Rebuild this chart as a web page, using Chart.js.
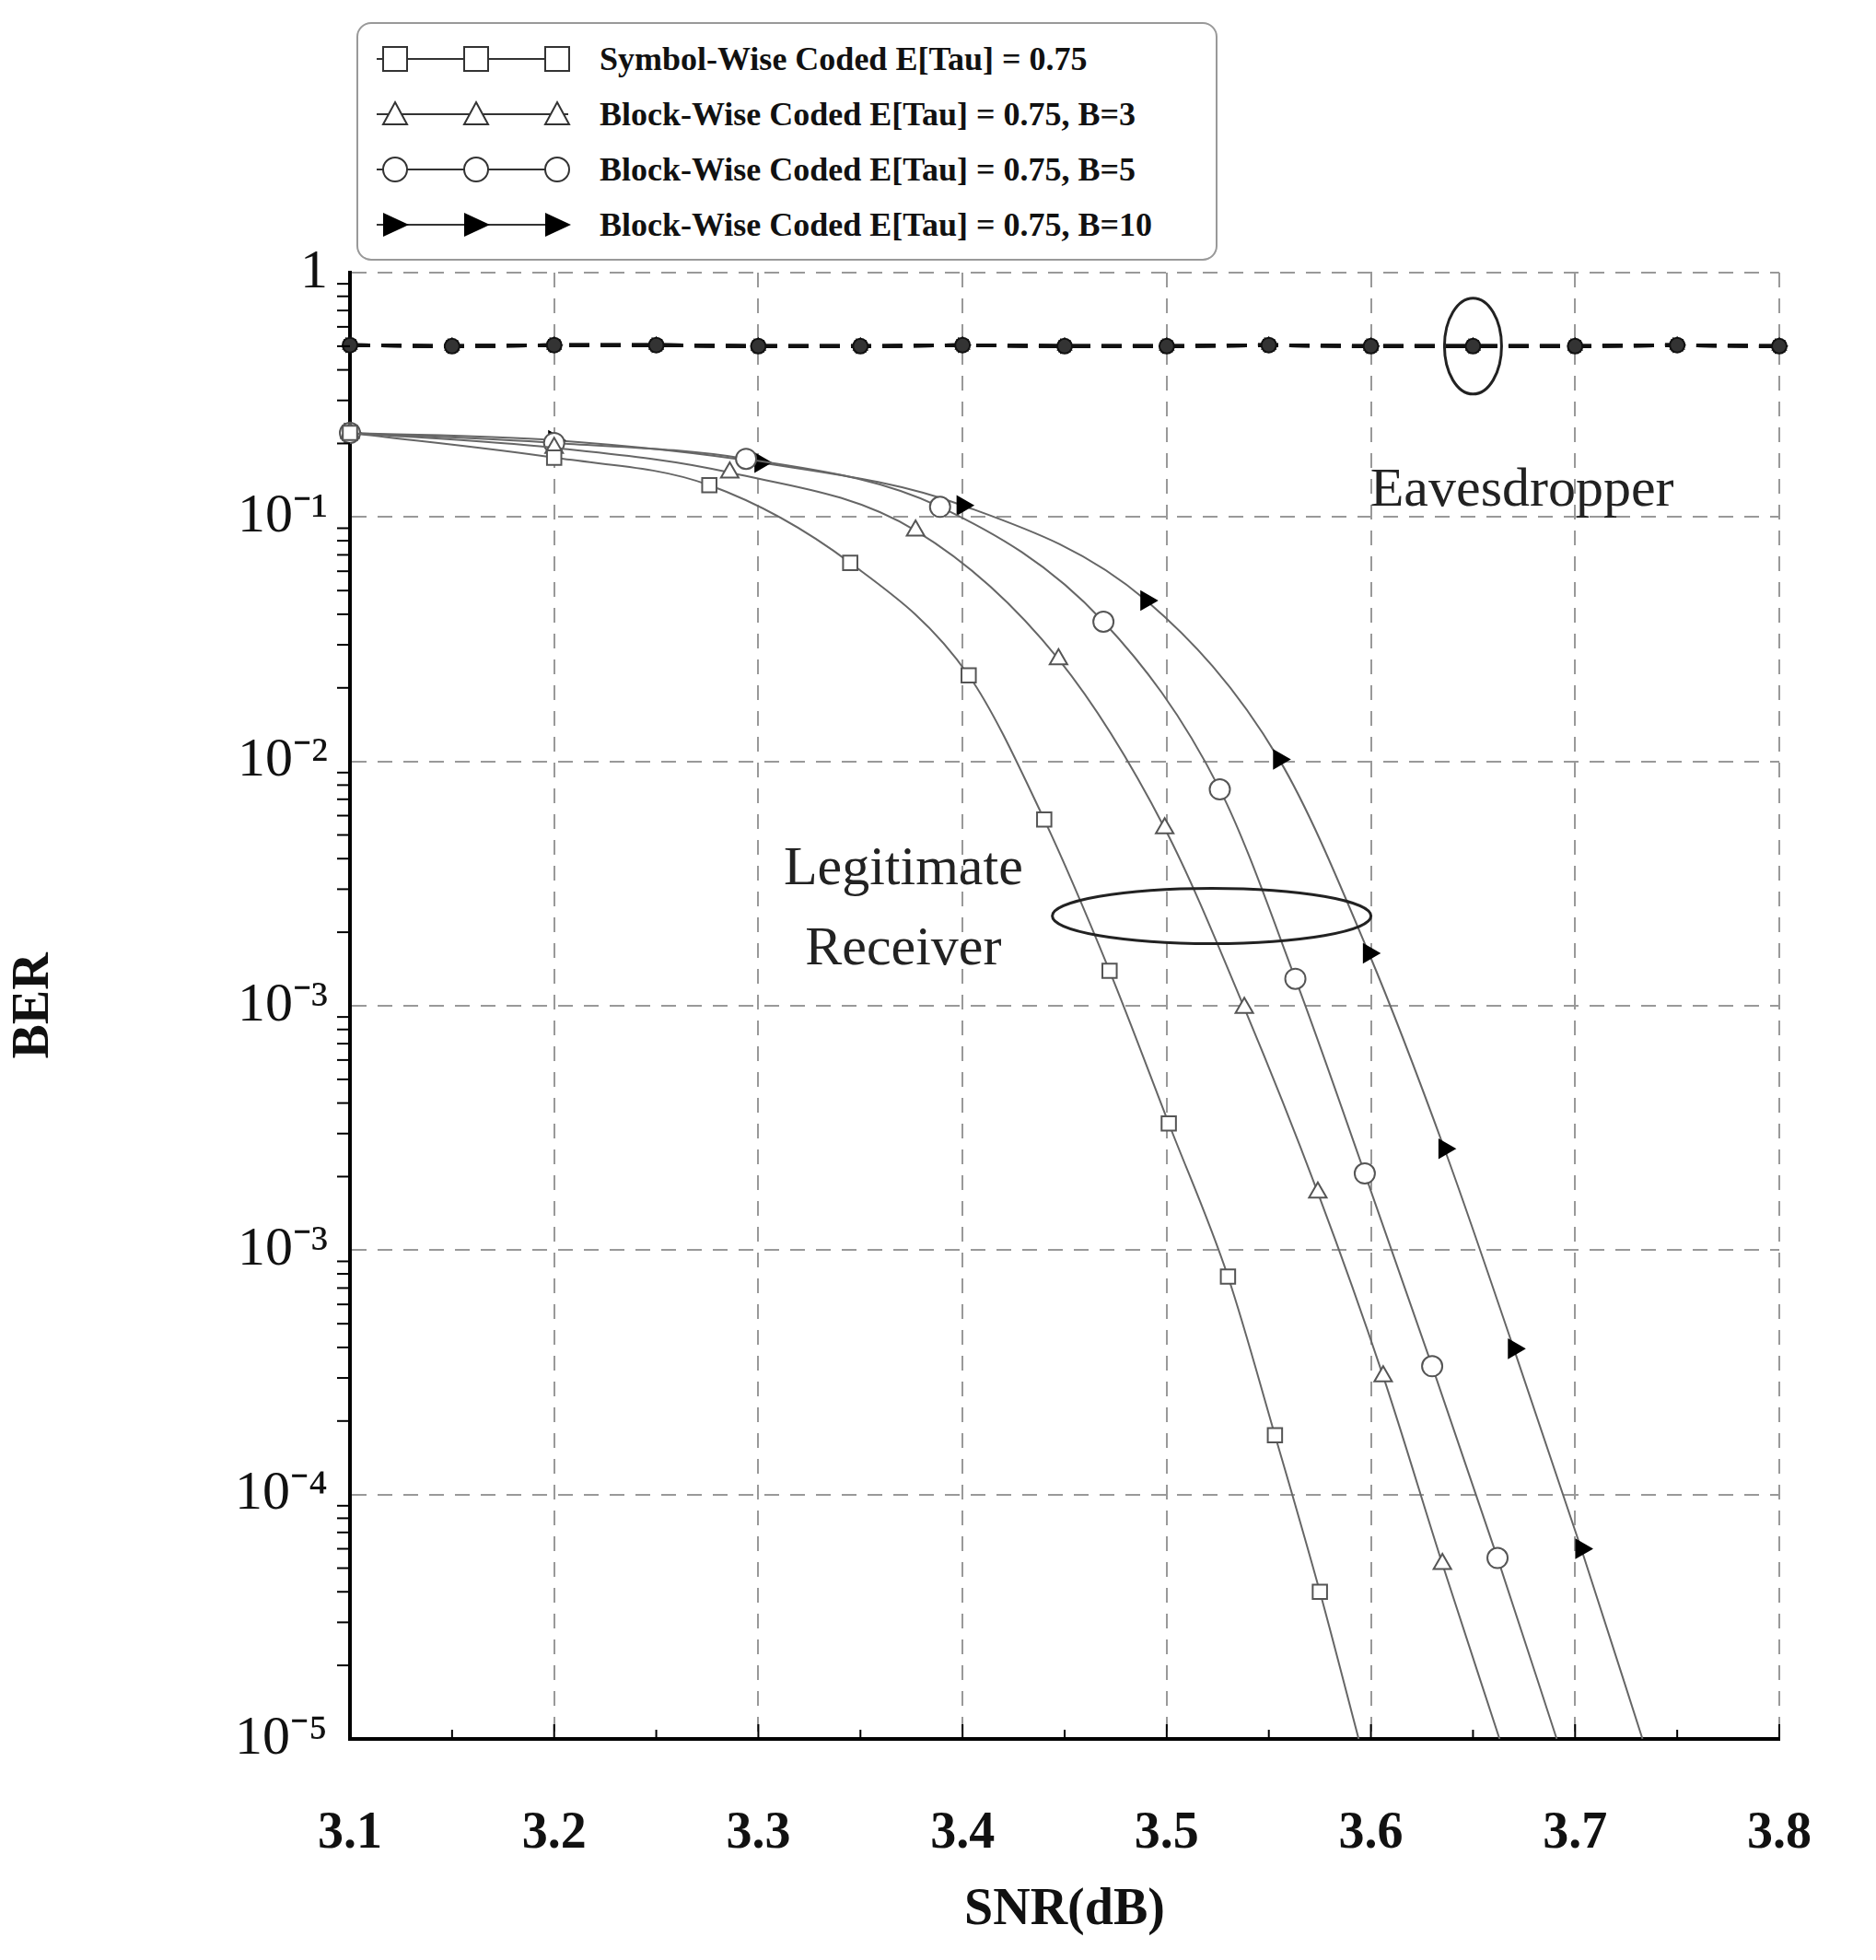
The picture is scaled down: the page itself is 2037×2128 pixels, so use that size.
<!DOCTYPE html>
<html>
<head>
<meta charset="utf-8">
<script src="https://cdn.jsdelivr.net/npm/chart.js@4.4.1/dist/chart.umd.min.js"></script>
<style>
  html, body { margin: 0; padding: 0; background: #fff; }
  #wrap { position: relative; width: 2037px; height: 2128px; }
  #legend {
    position: absolute; left: 387px; top: 24px; width: 935px; height: 259px;
    border: 2px solid #999; border-radius: 16px; background: #fff; box-sizing: border-box;
    font-family: "Liberation Serif", serif; font-weight: bold; font-size: 36px; color: #111;
  }
  .row { position: absolute; left: 0; height: 60px; display: flex; align-items: center; }
  .row svg { margin-left: 16px; }
  .row span { margin-left: 30px; white-space: nowrap; }
</style>
</head>
<body>
<div id="wrap">
  <canvas id="c" width="2037" height="2128"></canvas>
  <div id="legend"></div>
</div>
<script>
'use strict';

const xLabels = ['3.1', '3.2', '3.3', '3.4', '3.5', '3.6', '3.7', '3.8'];
const yTickValues = [1e-6, 1e-5, 1e-4, 1e-3, 1e-2, 1e-1, 1];
const yTickLabels = ['10⁻⁵', '10⁻⁴', '10⁻³', '10⁻³', '10⁻²', '10⁻¹', '1'];

const legendNames = [
  'Symbol-Wise Coded E[Tau] = 0.75',
  'Block-Wise Coded E[Tau] = 0.75, B=3',
  'Block-Wise Coded E[Tau] = 0.75, B=5',
  'Block-Wise Coded E[Tau] = 0.75, B=10'
];

// legitimate receiver curves (last point = where curve leaves the plot, no marker)
const symX = [3.1, 3.2, 3.276, 3.345, 3.403, 3.440, 3.472, 3.501, 3.530, 3.553, 3.575, 3.594];
const symY = [0.221, 0.175, 0.135, 0.0649, 0.0225, 0.00578, 0.00139, 3.3e-4, 7.8e-5, 1.75e-5, 4.0e-6, 1e-6];
const b3X = [3.1, 3.2, 3.286, 3.377, 3.447, 3.499, 3.538, 3.574, 3.606, 3.635, 3.663];
const b3Y = [0.221, 0.192, 0.152, 0.088, 0.0262, 0.00533, 9.8e-4, 1.72e-4, 3.05e-5, 5.2e-6, 1e-6];
const b5X = [3.1, 3.2, 3.294, 3.389, 3.469, 3.526, 3.563, 3.597, 3.630, 3.662, 3.691];
const b5Y = [0.221, 0.201, 0.173, 0.110, 0.0373, 0.00768, 0.00129, 2.06e-4, 3.35e-5, 5.5e-6, 1e-6];
const b10X = [3.1, 3.2, 3.301, 3.400, 3.490, 3.555, 3.599, 3.636, 3.670, 3.703, 3.733];
const b10Y = [0.221, 0.206, 0.167, 0.1116, 0.0455, 0.0102, 0.00164, 2.6e-4, 3.95e-5, 6e-6, 1e-6];

// eavesdropper
const eveX = [3.1, 3.15, 3.2, 3.25, 3.3, 3.35, 3.4, 3.45, 3.5, 3.55, 3.6, 3.65, 3.7, 3.75, 3.8];
const eveY = [0.505, 0.5, 0.505, 0.505, 0.5, 0.5, 0.505, 0.5, 0.5, 0.505, 0.5, 0.5, 0.5, 0.505, 0.5];

const styles = [
  { pointStyle: 'rect', rotation: 0, fill: '#fff', stroke: '#555', r: 11 },
  { pointStyle: 'triangle', rotation: 0, fill: '#fff', stroke: '#555', r: 11 },
  { pointStyle: 'circle', rotation: 0, fill: '#fff', stroke: '#555', r: 11 },
  { pointStyle: 'triangle', rotation: 90, fill: '#000', stroke: '#000', r: 11 }
];

const zip = (xs, ys) => xs.map((x, i) => ({ x, y: ys[i] }));

function legitSet(xs, ys, s) {
  const n = xs.length;
  return {
    data: zip(xs, ys),
    borderColor: '#666', borderWidth: 2, cubicInterpolationMode: 'monotone',
    pointStyle: s.pointStyle, rotation: s.rotation,
    pointRadius: xs.map((_, i) => (i === n - 1 ? 0 : s.r)),
    pointBackgroundColor: s.fill, pointBorderColor: s.stroke, pointBorderWidth: 2
  };
}
function eveSet(s) {
  return {
    data: zip(eveX, eveY),
    borderColor: '#111', borderWidth: 4, borderDash: [22, 12],
    pointStyle: s.pointStyle, rotation: s.rotation, pointRadius: 8,
    pointBackgroundColor: '#333', pointBorderColor: '#111', pointBorderWidth: 2
  };
}

const datasets = [
  legitSet(symX, symY, styles[0]),
  legitSet(b3X, b3Y, styles[1]),
  legitSet(b5X, b5Y, styles[2]),
  legitSet(b10X, b10Y, styles[3]),
  ...[styles[2], styles[1], styles[3], styles[0]].map(eveSet)
];

const annotations = {
  id: 'annotations',
  afterDatasetsDraw(chart) {
    const { ctx, scales: { x, y } } = chart;
    ctx.save();
    ctx.setLineDash([]);
    // minor ticks (inward)
    ctx.strokeStyle = '#000';
    ctx.lineWidth = 2;
    for (let d = -6; d < 0; d++) {
      for (let m = 2; m <= 9; m++) {
        const py = y.getPixelForValue(m * Math.pow(10, d));
        ctx.beginPath(); ctx.moveTo(x.left, py); ctx.lineTo(x.left - 14, py); ctx.stroke();
      }
    }
    for (let i = 0; i <= 14; i++) {
      const px = x.getPixelForValue(3.1 + i * 0.05);
      ctx.beginPath(); ctx.moveTo(px, y.bottom); ctx.lineTo(px, y.bottom - (i % 2 ? 10 : 16)); ctx.stroke();
    }
    ctx.lineWidth = 3;
    ctx.strokeStyle = '#222';
    ctx.beginPath();
    ctx.ellipse(x.getPixelForValue(3.65), y.getPixelForValue(0.5), 31, 52, 0, 0, Math.PI * 2);
    ctx.stroke();
    ctx.beginPath();
    ctx.ellipse(x.getPixelForValue(3.522), y.getPixelForValue(2.33e-3), 173, 30, 0, 0, Math.PI * 2);
    ctx.stroke();
    ctx.fillStyle = '#222';
    ctx.font = '60px "Liberation Serif", serif';
    ctx.textAlign = 'center';
    ctx.textBaseline = 'middle';
    ctx.fillText('Eavesdropper', x.getPixelForValue(3.674), y.getPixelForValue(0.128));
    ctx.fillText('Legitimate', x.getPixelForValue(3.371), y.getPixelForValue(3.6e-3));
    ctx.fillText('Receiver', x.getPixelForValue(3.371), y.getPixelForValue(1.7e-3));
    ctx.restore();
  }
};

const dashGrid = { color: '#999', lineWidth: 2, drawTicks: false };

new Chart(document.getElementById('c').getContext('2d'), {
  type: 'line',
  data: { datasets },
  options: {
    responsive: false, animation: false, clip: false,
    layout: { padding: { top: 296, right: 61, left: 0, bottom: 20 } },
    plugins: { legend: { display: false }, tooltip: { enabled: false } },
    scales: {
      x: {
        type: 'linear', min: 3.1, max: 3.8,
        afterBuildTicks: (s) => { s.ticks = xLabels.map((l) => ({ value: parseFloat(l) })); },
        afterFit: (s) => { s.height = 220; },
        ticks: {
          padding: 70, color: '#111', maxRotation: 0,
          font: { family: 'Liberation Serif', size: 56, weight: 'bold' },
          callback: (v) => xLabels.find((l) => Math.abs(parseFloat(l) - v) < 1e-6)
        },
        grid: { ...dashGrid },
        border: { color: '#000', width: 4, dash: [16, 12] },
        title: {
          display: true, text: 'SNR(dB)', color: '#111', padding: { top: 0, bottom: 0 },
          font: { family: 'Liberation Serif', size: 56, weight: 'bold' }
        }
      },
      y: {
        type: 'logarithmic', min: 1e-6, max: 1,
        afterBuildTicks: (s) => { s.ticks = yTickValues.map((v) => ({ value: v })); },
        afterFit: (s) => { s.width = 380; },
        ticks: {
          padding: 24, color: '#111',
          font: { family: 'Liberation Serif', size: 60 },
          callback: (v) => yTickLabels[yTickValues.findIndex((t) => Math.abs(Math.log10(t) - Math.log10(v)) < 1e-6)]
        },
        grid: { ...dashGrid },
        border: { color: '#000', width: 4, dash: [16, 12] },
        title: {
          display: true, text: 'BER', color: '#111', padding: { bottom: 50 },
          font: { family: 'Liberation Serif', size: 56, weight: 'bold' }
        }
      }
    }
  },
  plugins: [annotations]
});

// legend
const legend = document.getElementById('legend');
function markerSvg(s, cx) {
  const r = 13;
  if (s.pointStyle === 'rect') return `<rect x="${cx - r}" y="${30 - r}" width="${2 * r}" height="${2 * r}" fill="#fff" stroke="#333" stroke-width="2"/>`;
  if (s.pointStyle === 'circle') return `<circle cx="${cx}" cy="30" r="${r}" fill="#fff" stroke="#333" stroke-width="2"/>`;
  if (s.rotation === 90) return `<polygon points="${cx - r},${30 - r} ${cx + r + 2},30 ${cx - r},${30 + r}" fill="#000"/>`;
  return `<polygon points="${cx},${30 - r} ${cx + r},${30 + r - 2} ${cx - r},${30 + r - 2}" fill="#fff" stroke="#333" stroke-width="2"/>`;
}
legendNames.forEach((name, i) => {
  const row = document.createElement('div');
  row.className = 'row';
  row.style.top = `${8 + i * 60}px`;
  const s = styles[i];
  row.innerHTML = `<svg width="216" height="60"><line x1="4" y1="30" x2="212" y2="30" stroke="#333" stroke-width="2"/>${
    [24, 112, 200].map((cx) => markerSvg(s, cx)).join('')}</svg><span>${name}</span>`;
  legend.appendChild(row);
});
</script>
</body>
</html>
